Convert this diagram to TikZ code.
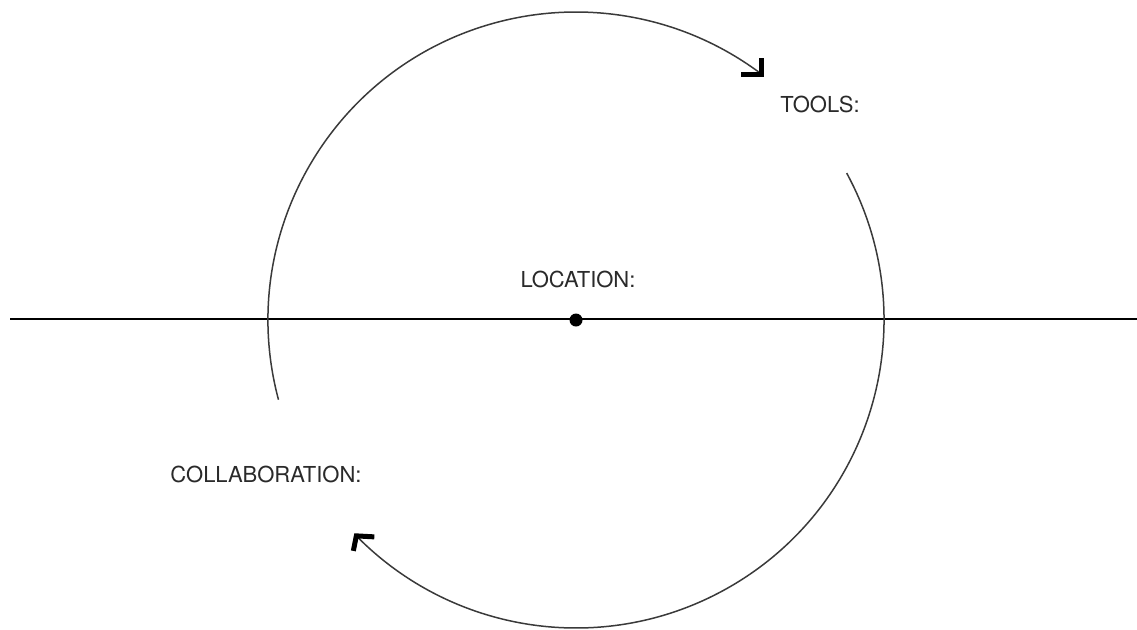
\documentclass[tikz,border=0pt]{standalone}
\usepackage{fontspec}
\setmainfont{TeX Gyre Heros}
\usepackage{tikz}
\definecolor{arcgray}{HTML}{3A3A3A}
\definecolor{textgray}{HTML}{2A2A2A}

\begin{document}
\begin{tikzpicture}[x=0.5pt, y=0.5pt,
        cyclearc/.style={arcgray, line width=0.75pt},
        chevron/.style={black, line width=2.5pt, miter limit=4},
        label/.style={textgray, font=\fontsize{11}{13}\selectfont, inner sep=0pt}]
            \useasboundingbox (0,0) rectangle (1137,-629);
            \coordinate (center) at (576,-320);
            \coordinate (west) at (10,-319);
            \coordinate (east) at (1137,-319);
            \draw[black, line width=1pt] (west) -- (east);
            \fill[black] (center) circle (6.5);
            % the two arcs round the location
            \draw[cyclearc] (center) ++(195:308) arc[start angle=195, end angle=53, radius=308] coordinate (toolsend);
            \draw[cyclearc] (center) ++(28.5:308) arc[start angle=28.5, end angle=-135.5, radius=308] coordinate (collabend);
            \draw[chevron] ([xshift=-10pt]toolsend) -- (toolsend) -- ([yshift=8pt]toolsend);
            \draw[chevron] ([xshift=9pt, yshift=-0.5pt]collabend) -- (collabend) -- ([xshift=-1.5pt, yshift=-7.5pt]collabend);
            \node[label] (tools) at (820,-104) {TOOLS:};
            \node[label] (location) at (578,-279) {LOCATION:};
            \node[label] (collab) at (266,-474) {COLLABORATION:};
        \end{tikzpicture}
\end{document}
